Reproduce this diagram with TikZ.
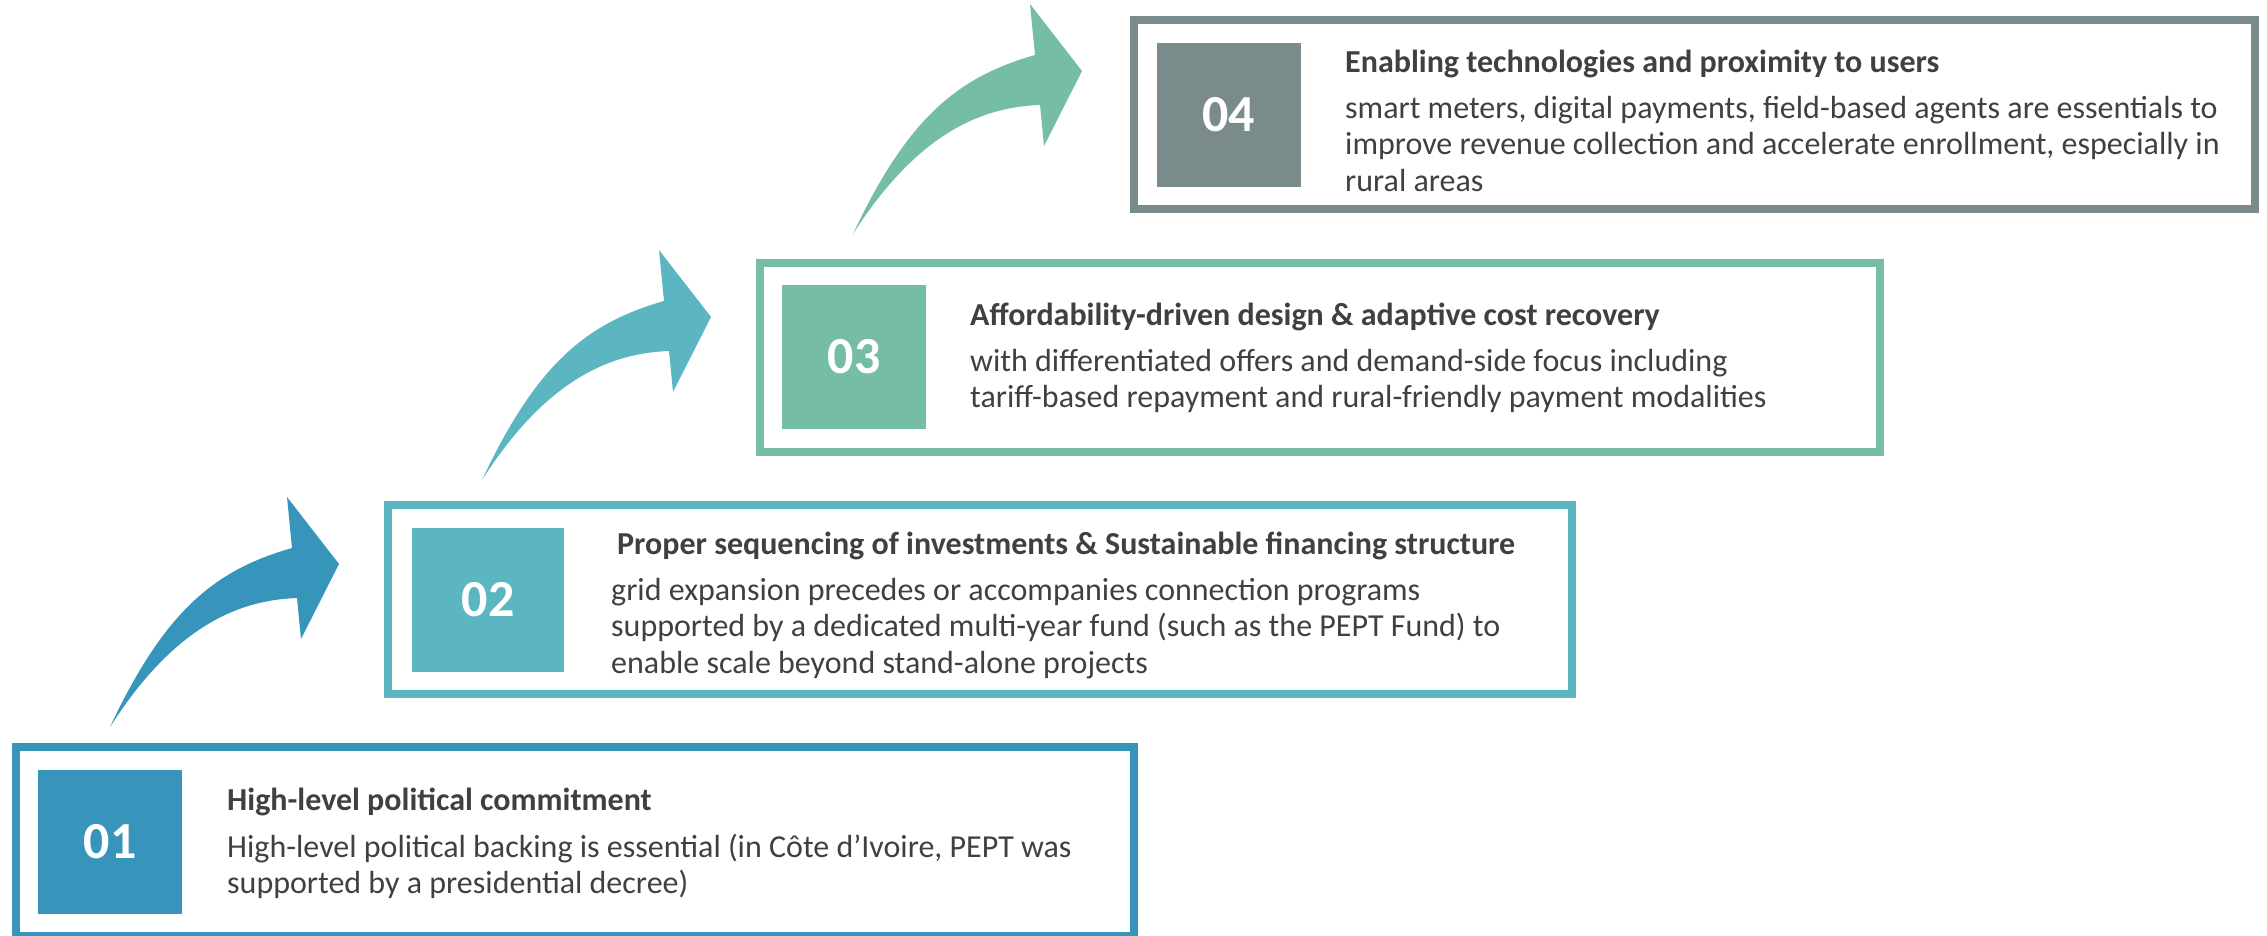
\documentclass[tikz,border=0pt]{standalone}
\usepackage{fontspec}
\setmainfont{Carlito}
\usepackage{xcolor}
\usepackage{tikz}
\usetikzlibrary{positioning}

\definecolor{stepblue}{HTML}{3795BB}
\definecolor{stepteal}{HTML}{5BB6C1}
\definecolor{stepgreen}{HTML}{76BDA6}
\definecolor{stepgray}{HTML}{7A8B8B}
\definecolor{textgray}{HTML}{404040}

\tikzset{
  stepframe/.style={draw=#1, line width=8pt, inner sep=0pt, outer sep=0pt, minimum height=189pt},
  numbox/.style={fill=#1, text=white, inner sep=0pt, minimum size=144pt, font=\fontsize{52}{60}\selectfont\bfseries},
  steptitle/.style={anchor=base west, text=textgray, inner sep=0pt, font=\fontsize{32}{36.5}\selectfont\bfseries},
  steptext/.style={anchor=base west, align=left, text=textgray, inner sep=0pt, font=\fontsize{32}{36.5}\selectfont},
}

\newcommand{\bentarrow}[2]{%
  \fill[#1, shift={#2}] (110,727) .. controls (165,610) and (215,570) .. (292,548)
    -- (287,497) -- (339,564) -- (301,639) -- (297,598)
    .. controls (240,600) and (175,625) .. (110,727) -- cycle;}

\begin{document}
\begin{tikzpicture}[x=1pt, y=-1pt]
    \useasboundingbox (0,0) rectangle (2267,935);

    \bentarrow{stepblue}{(0,0)}
    \bentarrow{stepteal}{(372,-247)}
    \bentarrow{stepgreen}{(743,-493)}

    \node[stepframe=stepblue, minimum width=1118pt] (frame1) at (575,841.5) {};
    \node[numbox=stepblue] (num1) at (110,841.5) {01};
    \node[steptitle] (title1) at (227,810) {High-level political commitment};
    \node[steptext] (text1) at (227,893.5) {High-level political backing is essential (in Côte d’Ivoire, PEPT was\\supported by a presidential decree)};

    \node[stepframe=stepteal, minimum width=1184pt] (frame2) at (980,599.5) {};
    \node[numbox=stepteal, minimum width=152pt] (num2) at (488,600) {02};
    \node[steptitle] (title2) at (617,554) {Proper sequencing of investments \& Sustainable financing structure};
    \node[steptext] (text2) at (611,673) {grid expansion precedes or accompanies connection programs\\supported by a dedicated multi-year fund (such as the PEPT Fund) to\\enable scale beyond stand-alone projects};

    \node[stepframe=stepgreen, minimum width=1120pt] (frame3) at (1320,357.5) {};
    \node[numbox=stepgreen] (num3) at (854,357) {03};
    \node[steptitle] (title3) at (970,325) {Affordability-driven design \& adaptive cost recovery};
    \node[steptext] (text3) at (970,407.5) {with differentiated offers and demand-side focus including\\tariff-based repayment and rural-friendly payment modalities};

    \node[stepframe=stepgray, minimum width=1121pt] (frame4) at (1694.5,114.5) {};
    \node[numbox=stepgray] (num4) at (1228.5,115) {04};
    \node[steptitle] (title4) at (1345,72) {Enabling technologies and proximity to users};
    \node[steptext] (text4) at (1345,191) {smart meters, digital payments, field-based agents are essentials to\\improve revenue collection and accelerate enrollment, especially in\\rural areas};
\end{tikzpicture}
\end{document}
